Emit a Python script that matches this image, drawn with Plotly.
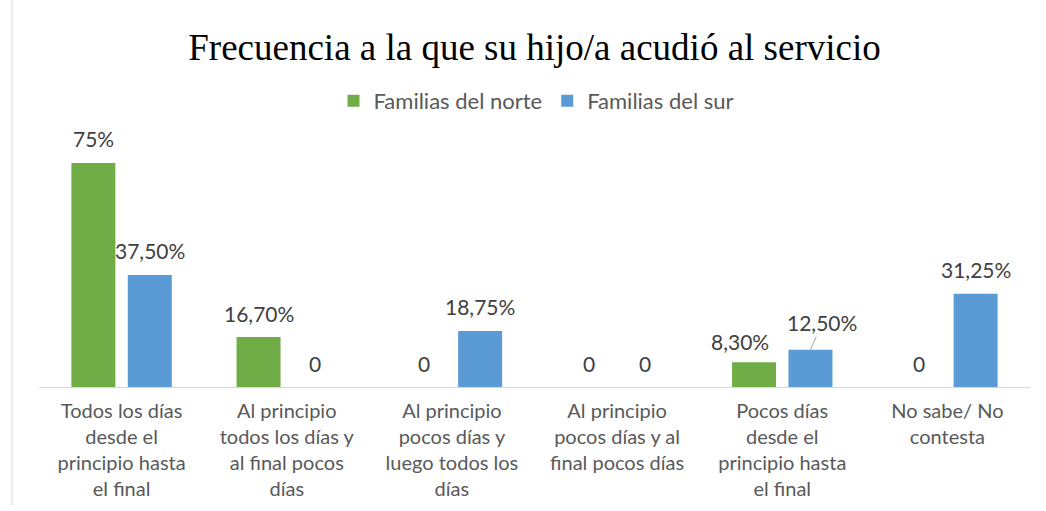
import plotly.graph_objects as go

categories = [
    "Todos los días desde el principio hasta el final",
    "Al principio todos los días y al final pocos días",
    "Al principio pocos días y luego todos los días",
    "Al principio pocos días y al final pocos días",
    "Pocos días desde el principio hasta el final",
    "No sabe/ No contesta",
]
tick_labels = [
    "Todos los días<br>desde el<br>principio hasta<br>el final",
    "Al principio<br>todos los días y<br>al final pocos<br>días",
    "Al principio<br>pocos días y<br>luego todos los<br>días",
    "Al principio<br>pocos días y al<br>final pocos días",
    "Pocos días<br>desde el<br>principio hasta<br>el final",
    "No sabe/ No<br>contesta",
]
norte = [75.0, 16.7, 0.0, 0.0, 8.3, 0.0]
sur = [37.5, 0.0, 18.75, 0.0, 12.5, 31.25]
norte_labels = ["75%", "16,70%", "0", "0", "8,30%", "0"]
sur_labels = ["37,50%", "0", "18,75%", "0", "12,50%", "31,25%"]

GREEN = "#70AD47"
BLUE = "#5B9BD5"
LABEL_FONT = dict(family="Lato, Open Sans, sans-serif", size=21, color="#404040")

fig = go.Figure()
fig.add_trace(go.Bar(name="Familias del norte", x=categories, y=norte,
                     marker=dict(color=GREEN, line=dict(width=0))))
fig.add_trace(go.Bar(name="Familias del sur", x=categories, y=sur,
                     marker=dict(color=BLUE, line=dict(width=0))))

# data labels
OFF = 28.2
annotations = []
for i, cat in enumerate(categories):
    for vals, labs, sign in ((norte, norte_labels, -1), (sur, sur_labels, 1)):
        xs, ys = sign * OFF, 24
        arrow = False
        if i == 4 and sign == -1:
            xs, ys = sign * OFF - 14, 21
        if i == 4 and sign == 1:
            arrow = True
        if arrow:
            annotations.append(dict(x=cat, y=vals[i], xref="x", yref="y", text=labs[i],
                                    showarrow=True, arrowhead=0, arrowwidth=1,
                                    arrowcolor="#A6A6A6", standoff=0,
                                    ax=12, ay=-27, xshift=sign * OFF,
                                    font=LABEL_FONT))
        else:
            annotations.append(dict(x=cat, y=vals[i], xref="x", yref="y", text=labs[i],
                                    showarrow=False, xshift=xs, yshift=ys,
                                    yanchor="middle", font=LABEL_FONT))

fig.update_layout(
    width=1046, height=511,
    margin=dict(l=39, r=16, t=148, b=124),
    paper_bgcolor="white", plot_bgcolor="white",
    barmode="group", bargap=0.317, bargroupgap=0.22,
    title=dict(text="Frecuencia a la que su hijo/a acudió al servicio",
               font=dict(family="Liberation Serif, Times New Roman, serif", size=37, color="#000000"),
               x=0.511, xanchor="center", y=1 - 47 / 511, yanchor="middle", yref="container"),
    legend=dict(orientation="h", x=0.502, xanchor="center", y=1.197, yanchor="middle",
                font=dict(family="Lato, Open Sans, sans-serif", size=22, color="#595959"),
                itemwidth=30, bgcolor="rgba(0,0,0,0)"),
    xaxis=dict(tickmode="array", tickvals=categories, ticktext=tick_labels,
               showline=True, linecolor="#D9D9D9", linewidth=1, showgrid=False,
               ticks="", ticklabelstandoff=6,
               tickfont=dict(family="Lato, Open Sans, sans-serif", size=20, color="#595959")),
    yaxis=dict(range=[0, 80], visible=False, showgrid=False, zeroline=False),
    annotations=annotations,
    shapes=[dict(type="line", xref="paper", yref="paper",
                 x0=(12 - 39) / 991, x1=(12 - 39) / 991,
                 y0=(387 - 0) / 239, y1=(387 - 505) / 239,
                 line=dict(color="#D9D9D9", width=1))],
)
fig.update_traces(cliponaxis=False)
fig.write_html("out.html", config={"displayModeBar": False},
               post_script="document.body.style.margin='0';document.body.style.padding='0';"
                           "document.body.style.overflow='hidden';")
